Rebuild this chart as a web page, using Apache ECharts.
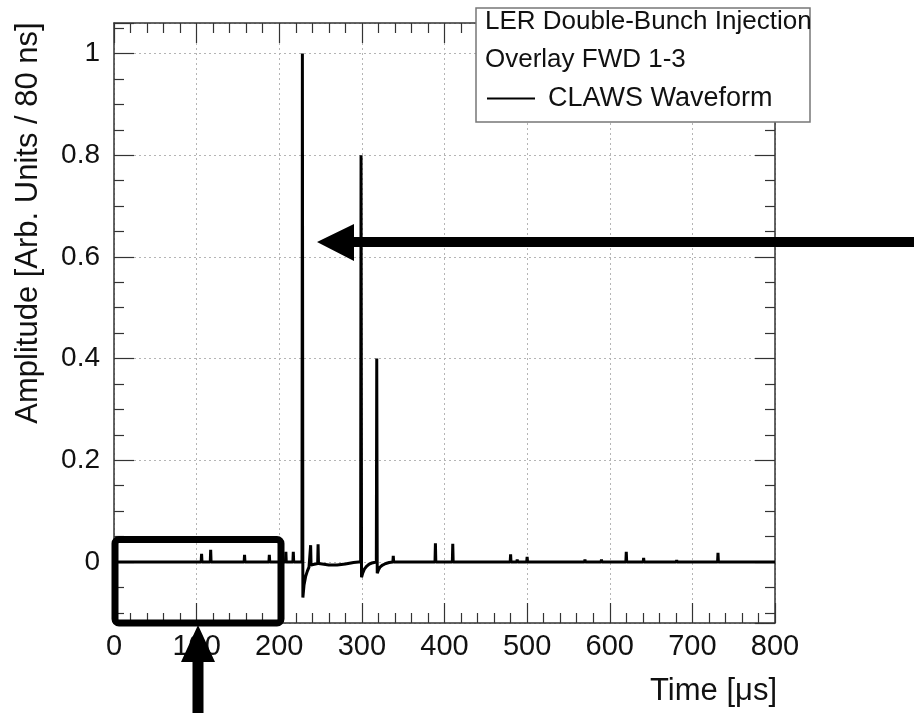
<!DOCTYPE html>
<html>
<head>
<meta charset="utf-8">
<title>CLAWS Waveform</title>
<script src="https://cdn.jsdelivr.net/npm/echarts@6/dist/echarts.min.js"></script>
<style>
  html, body { margin: 0; padding: 0; background: #fff; }
  #chart { width: 914px; height: 713px; }
</style>
</head>
<body>
<div id="chart"></div>
<script>
// waveform samples (time in us, amplitude in arb. units)
var timeUs = [
  0, 105.5, 106, 106.5, 116.5, 117, 117.5, 157.5, 158, 158.5,
  187.5, 188, 188.5, 207.5, 208, 208.5, 216.5, 217, 217.5,
  227.5, 228, 228.6, 230, 232, 234, 236, 237.5, 238, 238.5, 241, 244, 246.5, 247, 247.5,
  252, 260, 270, 280, 290, 296,
  298.5, 299, 299.6, 301, 303, 306, 309, 312, 317.5,
  318, 318.6, 320, 322, 325, 329, 333, 337.5, 338, 338.5,
  388.5, 389, 389.5, 409.5, 410, 410.5, 479.5, 480, 480.5, 487.5, 488, 488.5,
  499.5, 500, 500.5, 569.5, 570, 570.5, 589.5, 590, 590.5, 619.5, 620, 620.5,
  640.5, 641, 641.5, 680.5, 681, 681.5, 730.5, 731, 731.5, 800
];
var amplitude = [
  0, 0, 0.016, 0, 0, 0.024, 0, 0, 0.014, 0,
  0, 0.014, 0, 0, 0.02, 0, 0, 0.02, 0,
  0, 1.0, -0.07, -0.045, -0.028, -0.018, -0.01, -0.007, 0.033, -0.006, -0.005, -0.004, -0.003, 0.035, -0.003,
  -0.004, -0.006, -0.006, -0.004, -0.001, 0,
  0, 0.8, -0.03, -0.022, -0.014, -0.008, -0.004, -0.002, 0,
  0.40, -0.022, -0.016, -0.01, -0.006, -0.003, -0.001, 0, 0.012, 0,
  0, 0.037, 0, 0, 0.036, 0, 0, 0.015, 0, 0, 0.005, 0,
  0, 0.01, 0, 0, 0.005, 0, 0, 0.005, 0, 0, 0.02, 0,
  0, 0.008, 0, 0, 0.004, 0, 0, 0.018, 0, 0
];
var xTicks = [0, 800, 100];
var seriesName = "CLAWS Waveform";
var headerLines = ["LER Double-Bunch Injection", "Overlay FWD 1-3"];

function init_claws_chart(container) {
  var chartDom = document.getElementById(container);
  var myChart = echarts.init(chartDom);
  var font = "Liberation Sans, Arial, Helvetica, sans-serif";
  var frameColor = "#333";

  var points = timeUs.map(function (t, i) {
    return [t, amplitude[i]];
  });

  var tickStyle = { color: frameColor, width: 1.2 };
  var gridStyle = { color: "#b5b5b5", type: [2, 3], width: 1 };

  function xAxisCfg(pos, withLabels) {
    return {
      type: "value",
      position: pos,
      min: xTicks[0],
      max: xTicks[1],
      interval: xTicks[2],
      axisLine: { show: true, onZero: false, lineStyle: { color: frameColor, width: 1.5 } },
      axisTick: { show: true, inside: true, length: 20, lineStyle: tickStyle },
      minorTick: { show: true, splitNumber: 5, length: 10, lineStyle: tickStyle },
      splitLine: { show: withLabels, lineStyle: gridStyle },
      axisLabel: {
        show: withLabels,
        margin: 9,
        fontSize: 29,
        fontFamily: font,
        color: "#111",
      },
    };
  }
  function yAxisCfg(pos, withLabels) {
    return {
      type: "value",
      position: pos,
      min: -0.12,
      max: 1.06,
      splitNumber: 5,
      axisLine: { show: true, onZero: false, lineStyle: { color: frameColor, width: 1.5 } },
      axisTick: { show: true, inside: true, length: 20, lineStyle: tickStyle },
      minorTick: { show: true, splitNumber: 4, length: 10, lineStyle: tickStyle },
      splitLine: { show: withLabels, lineStyle: gridStyle },
      axisLabel: {
        show: withLabels,
        showMinLabel: false,
        showMaxLabel: false,
        margin: 14,
        fontSize: 28,
        fontFamily: font,
        color: "#111",
      },
    };
  }

  var option = {
    animation: false,
    backgroundColor: "#fff",
    grid: { left: 114, right: 139, top: 23, bottom: 90 },
    xAxis: [xAxisCfg("bottom", true), xAxisCfg("top", false)],
    yAxis: [yAxisCfg("left", true), yAxisCfg("right", false)],
    legend: {
      show: true,
      left: 487,
      top: 85,
      padding: 0,
      icon: "rect",
      itemWidth: 48,
      itemHeight: 2,
      textStyle: { fontSize: 27, fontFamily: font, color: "#111", padding: [0, 0, 0, 8] },
      data: [seriesName],
      z: 20,
    },
    series: [
      {
        name: seriesName,
        type: "line",
        data: points,
        showSymbol: false,
        symbol: "none",
        color: "#000",
        lineStyle: { color: "#000", width: 3 },
        z: 5,
      },
    ],
    graphic: [
      // legend box
      {
        type: "rect",
        z: 10,
        shape: { x: 476, y: 8, width: 334, height: 114 },
        style: { fill: "#fff", stroke: "#777", lineWidth: 1.5 },
      },
      {
        type: "text",
        z: 11,
        x: 485,
        y: 22,
        style: { text: headerLines[0], font: "26px " + font, fill: "#111", verticalAlign: "middle" },
      },
      {
        type: "text",
        z: 11,
        x: 485,
        y: 60,
        style: { text: headerLines[1], font: "26px " + font, fill: "#111", verticalAlign: "middle" },
      },
      // axis titles
      {
        type: "text",
        z: 11,
        x: 28,
        y: 223,
        rotation: Math.PI / 2,
        style: {
          text: "Amplitude [Arb. Units / 80 ns]",
          font: "31px " + font,
          fill: "#111",
          align: "center",
          verticalAlign: "middle",
        },
      },
      {
        type: "text",
        z: 11,
        x: 777,
        y: 691,
        style: { text: "Time [\u03bcs]", font: "31px " + font, fill: "#111", align: "right", verticalAlign: "middle" },
      },
      // annotation box and arrows
      {
        type: "rect",
        z: 30,
        shape: { x: 115, y: 539.5, width: 166, height: 83.5, r: 4 },
        style: { fill: "none", stroke: "#000", lineWidth: 7 },
      },
      {
        type: "polygon",
        z: 30,
        shape: {
          points: [[317, 242], [354, 224], [354, 237], [914, 237], [914, 247], [354, 247], [354, 261]],
        },
        style: { fill: "#000" },
      },
      {
        type: "polygon",
        z: 30,
        shape: {
          points: [[198, 625], [181, 662], [192.5, 662], [192.5, 713], [203.5, 713], [203.5, 662], [215, 662]],
        },
        style: { fill: "#000" },
      },
    ],
  };

  option && myChart.setOption(option);
  window.addEventListener("resize", function () {
    myChart.resize();
  });
}

init_claws_chart("chart");
</script>
</body>
</html>
